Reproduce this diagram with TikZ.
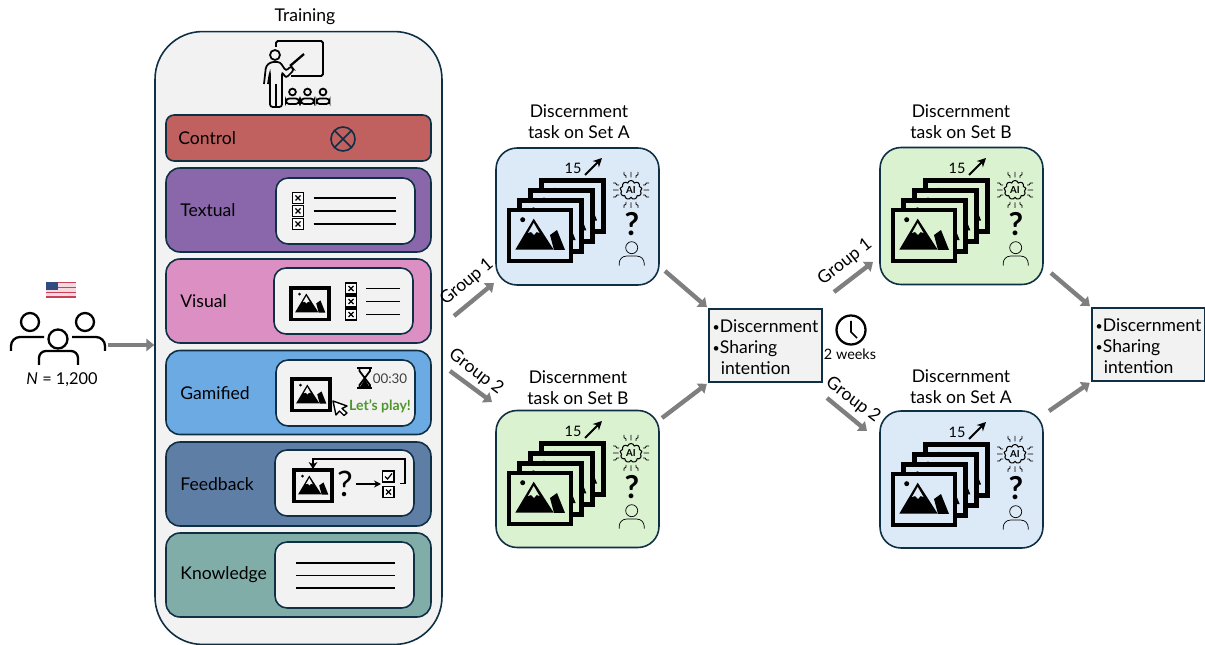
\documentclass[tikz,border=0pt]{standalone}
\usepackage{fontspec}
\setmainfont{Lato}
\usetikzlibrary{arrows.meta,shapes.symbols}
\definecolor{edgecol}{HTML}{0F3044}
\definecolor{panelcol}{HTML}{F2F2F2}
\definecolor{flowcol}{HTML}{7F7F7F}
\definecolor{setAcol}{HTML}{DCE9F6}
\definecolor{setBcol}{HTML}{DAF2D0}
\definecolor{usblue}{HTML}{2F4B80}
\definecolor{usred}{HTML}{C8405A}
\tikzset{
 lab/.style={font=\fontsize{10}{11.9}\selectfont,inner sep=0pt},
 small/.style={font=\fontsize{8.2}{9}\selectfont,inner sep=0pt},
 flow/.style={draw=flowcol,line width=2.5pt,-{Triangle[length=4.5pt,width=7pt]}},
 row/.style={draw=edgecol,line width=0.9pt,rounded corners=0.28cm,minimum width=5.3cm,minimum height=1.68cm,inner sep=0pt},
 inbox/.style={draw=edgecol,fill=panelcol,line width=0.9pt,rounded corners=0.24cm,minimum width=2.78cm,minimum height=1.32cm,inner sep=0pt},
 task/.style={draw=edgecol,line width=0.9pt,rounded corners=0.42cm,minimum width=3.26cm,minimum height=2.74cm,inner sep=0pt},
 result/.style={draw=edgecol,fill=panelcol,line width=0.9pt,minimum width=2.26cm,minimum height=1.46cm,inner sep=0pt},
 rule/.style={line width=0.9pt,black},
}
\newcommand{\smallbul}{{\fontsize{7}{7}\selectfont\raisebox{0.6pt}{•}}}
% framed picture with mountains: x, y, scale, line width, fill
\newcommand{\photoicon}[5]{
 \begin{scope}[shift={(#1,#2)},scale=#3]
 \draw[line width=#4,fill=#5] (2,2) rectangle (64,53);
 \fill (15.7,11.7) circle (2.5);
 \fill (26.7,10.7)--(8.3,41.7)--(46.7,41.7)--cycle;
 \fill[#5] (26.7,15)--(21,25)--(24,24)--(27,27)--(29.5,24)--(32.5,25)--cycle;
 \fill (43,27)--(50,22)--(58,42)--(47,42)--cycle;
 \end{scope}
}
% small ticked box: centre x, y
\newcommand{\crossbox}[2]{
 \draw[line width=0.6pt,fill=white!60!panelcol] (#1-5.5,#2-5.5) rectangle (#1+5.5,#2+5.5);
 \draw[line width=0.7pt] (#1-2.5,#2-2.5)--(#1+2.5,#2+2.5) (#1-2.5,#2+2.5)--(#1+2.5,#2-2.5);
}
% head and shoulders: centre x, head y, head radius, half width, line width
\newcommand{\personicon}[5]{
 \draw[line width=#5] (#1,#2) circle (#3);
 \draw[line width=#5] (#1-#4,#2+3*#3) -- (#1-#4,#2+2.6*#3) arc[start angle=180,end angle=270,radius=#3*1.2] -- (#1+#4-1.2*#3,#2+1.4*#3) arc[start angle=270,end angle=360,radius=#3*1.2] -- (#1+#4,#2+3*#3);
}
% what is in a task box: name, box corner x, y, fill
\newcommand{\taskicons}[4]{
 \begin{scope}[shift={(#2,#3)}]
 \foreach \i in {3,2,1,0}
  \photoicon{11+\i*10.7}{60-\i*9.8}{1}{2.8pt}{#4};
 \node[small] (#1count) at (77,20) {15};
 \draw[line width=1.1pt,-{Stealth[length=5pt,width=5pt]}] (89,27)--(106,10);
 \node[cloud,cloud puffs=9,draw,line width=0.6pt,minimum width=0.44cm,minimum height=0.38cm,inner sep=0pt,font=\fontsize{5.5}{6}\bfseries\selectfont] (#1ai) at (135,42) {AI};
 \foreach \a in {0,90,180,270}
  \draw[line width=0.5pt,shift={(135,42)},rotate=\a] (12,-5)--(14,-5)--(15.5,-7)--(18,-7) (12.5,0)--(18,0) (12,5)--(14,5)--(15.5,7)--(18,7);
 \node[font=\fontsize{18}{18}\bfseries\selectfont,inner sep=0pt] (#1q) at (136,76) {?};
 \personicon{135.7}{99.7}{6}{12.5}{0.4pt}
 \end{scope}
}
\begin{document}
\begin{tikzpicture}[x=0.02cm,y=-0.02cm]
\useasboundingbox (0,0) rectangle (1205,645);
% the people
\fill[white!80!usred] (46,282) rectangle (76,298);
\foreach \s in {282,287,292,296.5}
 \fill[usred] (46,\s) rectangle (76,\s+1.5);
\fill[usblue] (46,282) rectangle (58,290);
\draw[line width=1.3pt] (30,322) circle (9) (85,322) circle (9) (58,339) circle (9.5);
\draw[line width=1.3pt] (11,351)--(11,346) arc[start angle=180,end angle=270,radius=9]--(44,337);
\draw[line width=1.3pt] (72,337)--(96,337) arc[start angle=270,end angle=360,radius=9]--(105,351);
\draw[line width=1.3pt] (39,365)--(39,358) arc[start angle=180,end angle=270,radius=7]--(71,351) arc[start angle=270,end angle=360,radius=7]--(78,365);
\node[lab,font=\fontsize{9.3}{10}\selectfont] (total) at (62,380) {\textit{N} = 1,200};
% training panel
\node[lab] (trainlab) at (305,17) {Training};
\node[draw=edgecol,fill=panelcol,line width=0.9pt,rounded corners=0.95cm,minimum width=5.74cm,minimum height=12.26cm,inner sep=0pt] (train) at (298.5,338) {};
% teacher and board
\draw[line width=1.1pt,rounded corners=1pt] (276,47)--(276,41)--(323,41)--(323,76)--(291,76);
\draw[line width=1pt] (275,55) circle (5);
\draw[line width=1pt,rounded corners=1.5pt] (264,84)--(266,66)--(271,62)--(280,62)--(286,71)--(291,66)--(294,70)--(286,78)--(282,72)--(282,107)--(270,107)--(270,72)--(268,84);
\draw[line width=1pt] (276,84)--(276,107);
\draw[line width=1.3pt] (290,66)--(304,54);
\foreach \p in {292.5,307.5,323} {
 \draw[line width=1pt] (\p,92) circle (3.4);
 \draw[line width=1pt,rounded corners=1.8pt] (\p-6.5,104)--(\p-6.5,98.5)--(\p+6.5,98.5)--(\p+6.5,104)--cycle;
}
% control
\node[row,fill={rgb,255:red,192;green,96;blue,95},minimum height=0.92cm,rounded corners=0.16cm] (control) at (298.5,138) {};
\node[lab,anchor=west] (controllab) at (178,138) {Control};
\draw[draw=edgecol,line width=0.9pt] (343,139) circle (12) (334.5,130.5)--(351.5,147.5) (334.5,147.5)--(351.5,130.5);
% textual
\node[row,fill={rgb,255:red,138;green,103;blue,171}] (textual) at (298.5,210) {};
\node[lab,anchor=west] (textuallab) at (180,210) {Textual};
\node[inbox] (textualbox) at (345.5,211) {};
\foreach \l in {198,211,224} {
 \crossbox{298}{\l}
 \draw[rule] (313.5,\l)--(396,\l);
}
% visual
\node[row,fill={rgb,255:red,220;green,143;blue,194}] (visual) at (298.5,301) {};
\node[lab,anchor=west] (visuallab) at (180,301) {Visual};
\node[inbox] (visualbox) at (343.5,301) {};
\photoicon{290}{287}{0.61}{2pt}{panelcol}
\foreach \l in {288.5,301.5,314.5} {
 \crossbox{351}{\l}
 \draw[rule] (366,\l)--(400,\l);
}
% gamified
\node[row,fill={rgb,255:red,108;green,170;blue,228}] (gamified) at (298.5,392.5) {};
\node[lab,anchor=west] (gamifiedlab) at (180,393) {Gamified};
\node[inbox] (gamifiedbox) at (345.5,393) {};
\photoicon{291}{378}{0.61}{2pt}{panelcol}
\draw[line width=1.2pt] (357,368)--(372,368) (357,388)--(372,388);
\draw[line width=1pt] (359.5,368)--(359.5,371)--(370,385)--(370,388) (370,368)--(370,371)--(359.5,385)--(359.5,388);
\fill (360,387)--(369.5,387)--(364.8,379)--cycle;
\node[small,font=\fontsize{7.6}{9}\selectfont,text=black!75] (timer) at (390,379) {00:30};
\node[small,font=\fontsize{8}{9}\bfseries\selectfont,text={rgb,255:red,78;green,150;blue,46}] (play) at (380,406) {Let's play!};
\draw[line width=0.8pt,fill=white,line join=round] (333,401)--(347,406)--(342,408.5)--(347,413)--(344,415.5)--(339.5,411)--(336,415)--cycle;
% feedback
\node[row,fill={rgb,255:red,94;green,126;blue,166}] (feedback) at (298.5,484) {};
\node[lab,anchor=west] (feedbacklab) at (180,484) {Feedback};
\node[inbox] (feedbackbox) at (344.5,483) {};
\photoicon{293}{469}{0.61}{2pt}{panelcol}
\node[font=\fontsize{20}{20}\selectfont,inner sep=0pt] (fbq) at (345,484) {?};
\draw[line width=0.8pt,-{Stealth[length=4pt,width=4pt]}] (356,484)--(381,484);
\draw[line width=0.6pt,fill=white!60!panelcol] (382.5,471) rectangle (394,482);
\draw[line width=0.7pt] (385,476.5)--(387.5,479)--(392,473.5);
\crossbox{388.5}{492}
\draw[line width=1pt,-{Stealth[length=4pt,width=5pt]}] (400,483.5)--(405,483.5)--(405,459)--(313,459)--(313,469);
% knowledge
\node[row,fill={rgb,255:red,128;green,173;blue,168}] (knowledge) at (298.5,575) {};
\node[lab,anchor=west] (knowledgelab) at (180,575) {Knowledge};
\node[inbox] (knowledgebox) at (344.5,575) {};
\foreach \l in {563,575.5,588}
 \draw[rule] (296,\l)--(395,\l);
% tasks, first session
\node[lab,align=center] (taskAlab) at (579,122) {Discernment\\task on Set A};
\node[task,fill=setAcol] (taskA) at (577.5,216.5) {};
\taskicons{ta}{496}{148}{setAcol}
\node[lab,align=center] (taskBlab) at (578,388) {Discernment\\task on Set B};
\node[task,fill=setBcol] (taskB) at (577.5,479) {};
\taskicons{tb}{496}{411}{setBcol}
\node[result,align=left] (resa) at (765.5,345.5) {};
\node[lab,align=left] (resalab) at (765.5,347) {\smallbul Discernment\\\smallbul Sharing\\\hspace*{4.6pt}intention};
% wait
\draw[line width=1.3pt] (851,330) circle (14.5);
\draw[line width=0.9pt] (851,321)--(851,332)--(857,338);
\node[small] (wait) at (850,354) {2 weeks};
% tasks, second session
\node[lab,align=center] (taskClab) at (961,122) {Discernment\\task on Set B};
\node[task,fill=setBcol] (taskC) at (961.5,216) {};
\taskicons{tc}{880}{148}{setBcol}
\node[lab,align=center] (taskDlab) at (961,387) {Discernment\\task on Set A};
\node[task,fill=setAcol] (taskD) at (961.5,479.5) {};
\taskicons{td}{880}{412}{setAcol}
\node[result,align=left] (resb) at (1148.5,344.5) {};
\node[lab,align=left] (resblab) at (1148.5,346) {\smallbul Discernment\\\smallbul Sharing\\\hspace*{4.6pt}intention};
% free ends of the arrows
\coordinate (ppl) at (108,345);
\coordinate (g1a) at (454,316);
\coordinate (g2a) at (450,371);
\coordinate (g1b) at (834,292);
\coordinate (g2b) at (827,398);
\coordinate (outa) at (665,271);
\coordinate (outb) at (662,418);
\coordinate (outc) at (1051,273);
\coordinate (outd) at (1049,411);
\coordinate (g1ae) at (494,283);
\coordinate (g2ae) at (492,402);
\coordinate (g1be) at (873,262);
\coordinate (g2be) at (867,431);
% arrows
\draw[flow] (ppl) -- (ppl -| train.west);
\draw[flow] (g1a) -- (g1ae);
\draw[flow] (g2a) -- (g2ae);
\draw[flow] (g1b) -- (g1be);
\draw[flow] (g2b) -- (g2be);
\draw[flow,shorten >=1pt] (outa) -- (resa.north west);
\draw[flow,shorten >=1pt] (outb) -- (resa.south west);
\draw[flow,shorten >=1pt] (outc) -- (resb.north west);
\draw[flow,shorten >=1pt] (outd) -- (resb.south west);
% group labels
\node[lab,rotate=40] (g1alab) at (467,282) {Group 1};
\node[lab,rotate=-37] (g2alab) at (476,372) {Group 2};
\node[lab,rotate=38] (g1blab) at (845,262) {Group 1};
\node[lab,rotate=-37] (g2blab) at (853,400) {Group 2};
\end{tikzpicture}
\end{document}
